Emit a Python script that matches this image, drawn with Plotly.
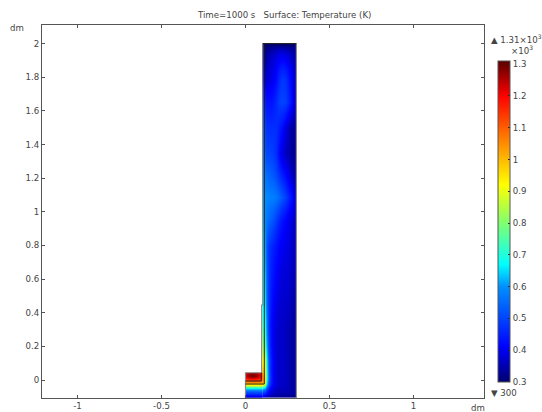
import plotly.graph_objects as go

# ---- data (temperature in units of 1e3 K) ----
col_x_edges = [0.1, 0.107, 0.116, 0.125, 0.137, 0.152, 0.17, 0.19, 0.21, 0.23, 0.25, 0.27, 0.288, 0.3, 0.303]
col_y_edges = [-0.11, -0.1, -0.08, -0.06, -0.042, -0.028, -0.012, 0.008, 0.04, 0.08, 0.15, 0.25, 0.37, 0.52,
               0.7, 0.875, 1.025, 1.15, 1.275, 1.425, 1.575, 1.725, 1.85, 1.935, 1.985, 2.0]
col_temp = [
    [.34, .34, .34, .33, .33, .32, .32, .32, .32, .32, .32, .31, .31, .30],
    [.42, .41, .40, .38, .36, .35, .34, .34, .34, .34, .33, .33, .32, .30],
    [.52, .50, .47, .43, .39, .37, .36, .36, .35, .35, .35, .34, .33, .31],
    [.66, .63, .58, .50, .42, .39, .37, .36, .36, .36, .35, .34, .33, .31],
    [.85, .78, .66, .55, .45, .40, .38, .37, .36, .36, .35, .34, .33, .31],
    [1.02, .97, .76, .60, .47, .41, .38, .37, .37, .36, .35, .34, .33, .31],
    [1.05, 1.02, .82, .63, .48, .41, .38, .37, .37, .36, .35, .34, .33, .31],
    [1.03, 1.0, .83, .64, .48, .41, .38, .37, .37, .36, .35, .34, .33, .31],
    [.98, .96, .82, .63, .47, .41, .38, .37, .37, .36, .35, .34, .33, .31],
    [.92, .90, .80, .62, .47, .41, .38, .37, .37, .36, .35, .34, .33, .31],
    [.82, .80, .70, .57, .45, .40, .38, .37, .37, .36, .35, .34, .33, .31],
    [.74, .72, .64, .54, .44, .40, .38, .37, .37, .36, .35, .34, .33, .31],
    [.68, .67, .60, .52, .45, .41, .39, .38, .37, .37, .36, .35, .33, .31],
    [.67, .65, .58, .51, .46, .43, .41, .39, .38, .38, .37, .36, .34, .31],
    [.66, .62, .56, .50, .47, .45, .43, .41, .40, .39, .38, .37, .35, .32],
    [.64, .60, .57, .56, .54, .52, .49, .46, .43, .41, .39, .38, .35, .32],
    [.62, .60, .59, .59, .58, .58, .57, .55, .52, .49, .45, .41, .36, .32],
    [.60, .57, .56, .55, .54, .53, .51, .48, .45, .42, .39, .36, .33, .31],
    [.58, .53, .51, .50, .50, .49, .47, .42, .38, .36, .34, .33, .32, .30],
    [.55, .51, .47, .47, .47, .47, .47, .45, .42, .38, .35, .34, .32, .30],
    [.50, .46, .43, .43, .43, .44, .46, .49, .50, .49, .45, .40, .35, .31],
    [.42, .39, .37, .38, .39, .40, .42, .46, .48, .47, .43, .39, .35, .31],
    [.36, .34, .35, .36, .37, .38, .40, .41, .42, .41, .39, .37, .34, .31],
    [.33, .32, .32, .33, .34, .35, .36, .37, .37, .36, .35, .34, .32, .30],
    [.30, .30, .30, .30, .30, .30, .30, .30, .30, .30, .30, .30, .30, .30],
]
block_x_edges = [0.0, 0.015, 0.045, 0.075, 0.095, 0.1]
block_y_edges = [-0.11, -0.1, -0.08, -0.06, -0.042, -0.028, -0.012, 0.005, 0.018, 0.032, 0.043]
block_temp = [
    [.34, .34, .34, .34, .34],
    [.42, .42, .42, .42, .42],
    [.52, .52, .52, .52, .52],
    [.66, .66, .66, .66, .66],
    [.85, .85, .85, .85, .85],
    [1.0, 1.0, 1.0, 1.0, 1.02],
    [1.12, 1.13, 1.13, 1.12, 1.08],
    [1.2, 1.24, 1.23, 1.18, 1.1],
    [1.25, 1.29, 1.28, 1.2, 1.12],
    [1.24, 1.28, 1.27, 1.2, 1.12],
]
inner_line_x = [0.0, 0.094, 0.094]
inner_line_y = [-0.006, -0.006, 0.043]
outer_line_x = [0.0, 0.112, 0.112]
outer_line_y = [-0.024, -0.024, 2.0]
edge_x = [0.0, 0.0, 0.096, 0.096, 0.103, 0.103]
edge_y = [-0.11, 0.043, 0.043, 0.446, 0.446, 2.0]
right_edge_x = [0.303, 0.303]
right_edge_y = [2.0, -0.11]
top_edge_x = [0.103, 0.303]
top_edge_y = [2.0, 2.0]

x_ticks = [-1, -0.5, 0, 0.5, 1]
x_labels = ["-1", "-0.5", "0", "0.5", "1"]
y_ticks = [0, 0.2, 0.4, 0.6, 0.8, 1, 1.2, 1.4, 1.6, 1.8, 2]
y_labels = ["0", "0.2", "0.4", "0.6", "0.8", "1", "1.2", "1.4", "1.6", "1.8", "2"]
cb_ticks = [0.3, 0.4, 0.5, 0.6, 0.7, 0.8, 0.9, 1, 1.1, 1.2, 1.3]
cb_labels = ["0.3", "0.4", "0.5", "0.6", "0.7", "0.8", "0.9", "1", "1.1", "1.2", "1.3"]
cmin, cmax = 0.3, 1.31

stops = [(0.3, "#000070"), (0.41, "#0000ff"), (0.6, "#0090ff"), (0.67, "#00ffff"), (0.8, "#80ff70"),
         (0.92, "#ffff00"), (1.02, "#ffa800"), (1.2, "#ff0000"), (1.31, "#5a0000")]
colorscale = [[(v - cmin) / (cmax - cmin), c] for v, c in stops]

W, H = 542, 412
L, R, T, B = 42, 484, 25, 398
TXT = "#444444"
FONT = dict(family="DejaVu Sans", size=8.6, color=TXT)
def px(x): return (x - L) / (R - L)
def py(y): return (B - y) / (B - T)

fig = go.Figure()
fig.add_trace(go.Heatmap(x=col_x_edges, y=col_y_edges, z=col_temp, coloraxis="coloraxis", zsmooth="best", hoverinfo="skip"))
fig.add_trace(go.Heatmap(x=block_x_edges, y=block_y_edges, z=block_temp, coloraxis="coloraxis", zsmooth="best", hoverinfo="skip"))
fig.add_trace(go.Scatter(x=edge_x, y=edge_y, mode="lines", line=dict(color="#8c8c8c", width=1.2), hoverinfo="skip"))
fig.add_trace(go.Scatter(x=right_edge_x, y=right_edge_y, mode="lines", line=dict(color="#8c8c8c", width=1.2), hoverinfo="skip"))
fig.add_trace(go.Scatter(x=top_edge_x, y=top_edge_y, mode="lines", line=dict(color="#1a1a1a", width=1), hoverinfo="skip"))
fig.add_trace(go.Scatter(x=outer_line_x, y=outer_line_y, mode="lines", line=dict(color="#1a1a1a", width=0.9), hoverinfo="skip"))
fig.add_trace(go.Scatter(x=inner_line_x, y=inner_line_y, mode="lines", line=dict(color="#1a1a1a", width=0.9), hoverinfo="skip"))

axis = dict(showgrid=False, zeroline=False, showline=True, linecolor="#555555", linewidth=1, mirror="ticks",
            ticks="inside", ticklen=3, tickcolor="#555555", tickwidth=1, tickfont=FONT, tickmode="array")
fig.update_layout(
    width=W, height=H, margin=dict(l=L, r=W - R, t=T, b=H - B, autoexpand=False), autosize=False, showlegend=False,
    paper_bgcolor="white", plot_bgcolor="white", font=FONT,
    xaxis=dict(axis, range=[(L - 245.5) / 168, (R - 245.5) / 168], tickvals=x_ticks, ticktext=x_labels, layer="above traces"),
    yaxis=dict(axis, range=[(380 - B) / 168.2, (380 - T) / 168.2], tickvals=y_ticks, ticktext=y_labels, layer="above traces"),
    coloraxis=dict(cmin=cmin, cmax=cmax, colorscale=colorscale,
                   colorbar=dict(lenmode="pixels", len=321, thicknessmode="pixels", thickness=12,
                                 x=px(498), xanchor="left", y=py(61), yanchor="top", xpad=0, ypad=0,
                                 outlinecolor="#555555", outlinewidth=1, borderwidth=0,
                                 ticks="inside", ticklen=2, tickcolor="#222222", tickwidth=1, tickfont=FONT,
                                 tickmode="array", tickvals=cb_ticks, ticktext=cb_labels, tickprefix="  ")),
    annotations=[
        dict(text="Time=1000 s   Surface: Temperature (K)", x=px(283.5), y=py(15), xanchor="center", yanchor="middle"),
        dict(text="dm", x=px(17), y=py(28), xanchor="center", yanchor="middle"),
        dict(text="dm", x=px(478), y=py(408), xanchor="center", yanchor="middle"),
        dict(text="\u25b2 1.31\u00d710<sup>3</sup>", x=px(489), y=py(39), xanchor="left", yanchor="middle"),
        dict(text="\u00d710<sup>3</sup>", x=px(509), y=py(50), xanchor="left", yanchor="middle"),
        dict(text="\u25bc 300", x=px(489), y=py(393), xanchor="left", yanchor="middle"),
    ],
)
for a in fig.layout.annotations:
    a.update(xref="paper", yref="paper", showarrow=False, font=FONT, xshift=0, yshift=0)

fig.write_html("out.html", config={"displayModeBar": False},
               post_script="document.body.style.margin='0';document.body.style.overflow='hidden';")
